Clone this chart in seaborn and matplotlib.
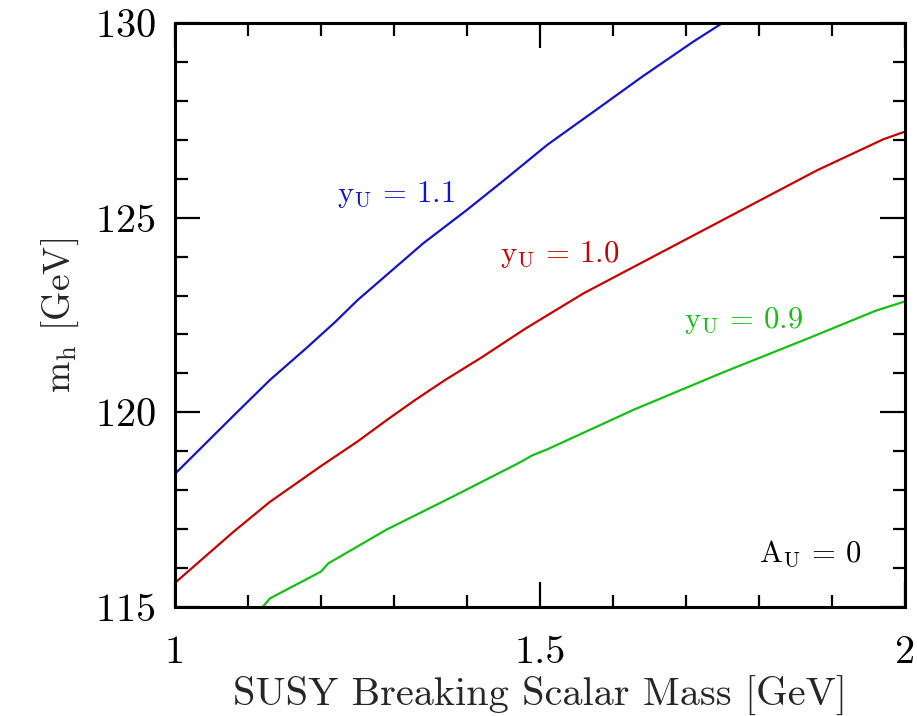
import matplotlib
matplotlib.use("Agg")
import matplotlib.pyplot as plt
from matplotlib.ticker import MultipleLocator
import seaborn as sns
import pandas as pd

# --- data ---
x_11 = [1.00, 1.08, 1.13, 1.18, 1.22, 1.25, 1.34, 1.40, 1.45, 1.51, 1.58, 1.64, 1.71, 1.75, 1.76]
y_11 = [118.42, 119.91, 120.83, 121.65, 122.33, 122.88, 124.34, 125.20, 125.95, 126.87, 127.81, 128.62, 129.52, 130.00, 130.15]

x_10 = [1.00, 1.08, 1.13, 1.20, 1.25, 1.29, 1.33, 1.37, 1.42, 1.48, 1.56, 1.72, 1.88, 1.97, 2.00]
y_10 = [115.62, 116.93, 117.70, 118.62, 119.25, 119.80, 120.33, 120.83, 121.41, 122.15, 123.06, 124.64, 126.22, 127.01, 127.21]

x_09 = [1.12, 1.13, 1.20, 1.21, 1.29, 1.38, 1.47, 1.49, 1.51, 1.63, 1.75, 1.87, 1.96, 2.00]
y_09 = [115.00, 115.22, 115.91, 116.12, 116.99, 117.83, 118.69, 118.90, 119.05, 120.08, 121.02, 121.92, 122.61, 122.85]

series_names = ["1.1", "1.0", "0.9"]
series_colors = ["#1414c8", "#c80000", "#14c014"]
label_pos = [(1.222, 125.6), (1.445, 124.05), (1.697, 122.35)]

xticks = [1, 1.5, 2]
xticklabels = ["1", "1.5", "2"]
yticks = [115, 120, 125, 130]

rows = []
for name, xs, ys in zip(series_names, [x_11, x_10, x_09], [y_11, y_10, y_09]):
    for a, b in zip(xs, ys):
        rows.append({"x": a, "y": b, "yU": name})
df = pd.DataFrame(rows)

sns.set_style("ticks")
plt.rcParams["font.family"] = ["cmr10", "DejaVu Serif"]
plt.rcParams["mathtext.fontset"] = "cm"
plt.rcParams["axes.formatter.use_mathtext"] = True

fig = plt.figure(figsize=(9.17, 7.16), dpi=100)
ax = fig.add_axes([0.1908, 0.1522, 0.7961, 0.8157])

sns.lineplot(data=df, x="x", y="y", hue="yU", palette=dict(zip(series_names, series_colors)),
             linewidth=1.6, legend=False, ax=ax, sort=False, estimator=None)

for name, col, (lx, ly) in zip(series_names, series_colors, label_pos):
    ax.text(lx, ly, r"$\mathrm{y_U}$ = " + name, color=col, fontsize=22,
            ha="left", va="center")
ax.text(1.800, 116.36, r"$\mathrm{A_U}$ = 0", color="black", fontsize=22, ha="left", va="center")

ax.set_xlim(1, 2)
ax.set_ylim(115, 130)
ax.set_xticks(xticks)
ax.set_xticklabels(xticklabels)
ax.set_yticks(yticks)
ax.xaxis.set_minor_locator(MultipleLocator(0.1))
ax.yaxis.set_minor_locator(MultipleLocator(1))
ax.tick_params(which="both", direction="in", top=True, right=True, width=1.6, colors="black")
ax.tick_params(which="major", length=18, labelsize=29)
ax.tick_params(which="minor", length=9)
ax.tick_params(axis="x", which="major", pad=20)
ax.tick_params(axis="y", which="major", pad=14)
for s in ax.spines.values():
    s.set_linewidth(2.2)
    s.set_color("black")

ax.set_xlabel("SUSY Breaking Scalar Mass [GeV]", fontsize=29, labelpad=4)
ax.set_ylabel(r"$\mathrm{m_h}$ [GeV]", fontsize=27, labelpad=10)

fig.savefig("out.png", dpi=100)
